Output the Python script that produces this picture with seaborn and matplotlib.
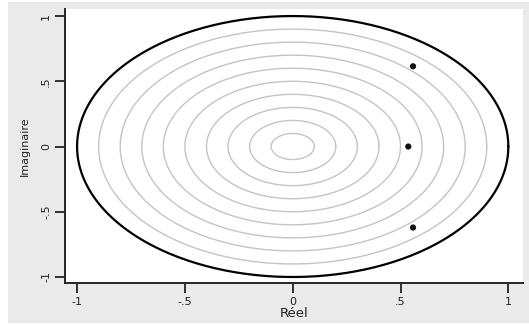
import numpy as np
import pandas as pd
import matplotlib
matplotlib.use("Agg")
import matplotlib.pyplot as plt
import seaborn as sns
from matplotlib.patches import Rectangle

# inverse roots
root_real = [0.558, 0.536, 0.558]
root_imag = [0.615, 0.0, -0.621]

grid_radii = [0.1, 0.2, 0.3, 0.4, 0.5, 0.6, 0.7, 0.8, 0.9]
unit_radius = 1.0

tick_values = [-1, -0.5, 0, 0.5, 1]
tick_labels = ["-1", "-.5", "0", ".5", "1"]

sns.set_style("ticks")
plt.rcParams["font.family"] = ["DejaVu Sans"]

fig = plt.figure(figsize=(5.29, 3.25), dpi=100)
fig.patch.set_facecolor("white")
fig.patches.append(Rectangle((8 / 529, 2 / 325), 1 - 8 / 529, 321 / 325,
                             transform=fig.transFigure, facecolor="#eaeaea",
                             edgecolor="none", zorder=-10))
ax = fig.add_axes([65 / 529, 1 - 283 / 325, (523 - 65) / 529, (283 - 9) / 325])
ax.set_facecolor("white")

theta = np.linspace(0, 2 * np.pi, 400)
for r in grid_radii:
    circ = pd.DataFrame({"x": r * np.cos(theta), "y": r * np.sin(theta)})
    sns.lineplot(data=circ, x="x", y="y", sort=False, estimator=None,
                 color="#c4c4c4", linewidth=1.0, ax=ax)
circ = pd.DataFrame({"x": unit_radius * np.cos(theta), "y": unit_radius * np.sin(theta)})
sns.lineplot(data=circ, x="x", y="y", sort=False, estimator=None,
             color="black", linewidth=1.6, ax=ax)

roots = pd.DataFrame({"real": root_real, "imag": root_imag})
sns.scatterplot(data=roots, x="real", y="imag", color="#111111", s=20,
                edgecolor="none", ax=ax, zorder=5)

ax.set_xlim(-1.056, 1.068)
ax.set_ylim(-1.046, 1.054)
ax.set_xticks(tick_values)
ax.set_xticklabels(tick_labels)
ax.set_yticks(tick_values)
ax.set_yticklabels(tick_labels, rotation=90, va="center")
ax.tick_params(axis="both", length=7, width=1.3, labelsize=8, pad=3, colors="#222222")
ax.set_xlabel("Réel", fontsize=9.5, labelpad=0, color="#222222")
ax.set_ylabel("Imaginaire", fontsize=8, labelpad=8, color="#222222")
for side in ["top", "right"]:
    ax.spines[side].set_visible(False)
for side in ["left", "bottom"]:
    ax.spines[side].set_linewidth(1.4)

plt.savefig("out.png", dpi=100)
plt.close()
